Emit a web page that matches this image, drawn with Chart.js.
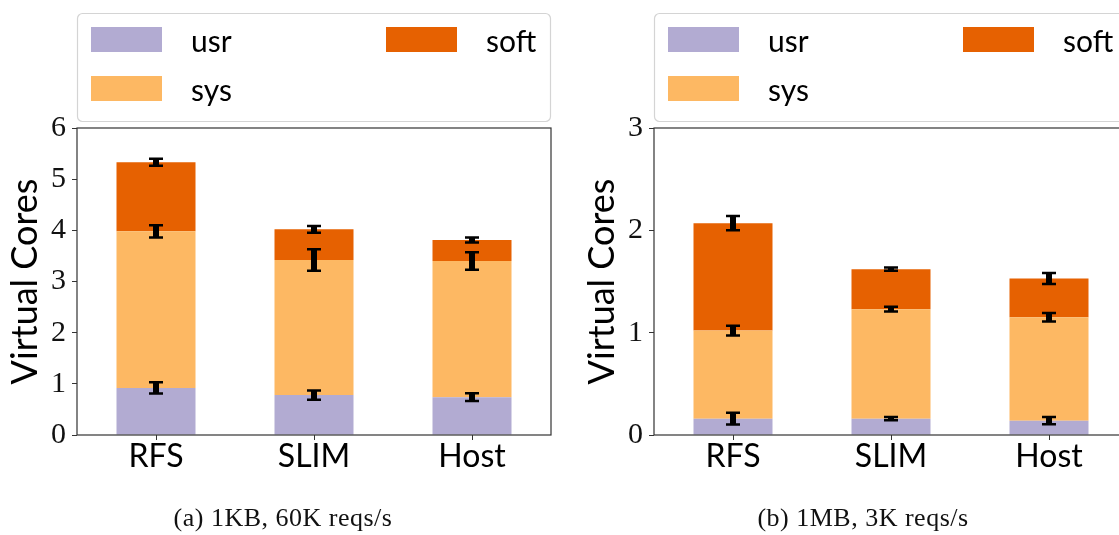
<!DOCTYPE html>
<html>
<head>
<meta charset="utf-8">
<title>CPU breakdown</title>
<script src="https://cdn.jsdelivr.net/npm/chart.js@4.4.1/dist/chart.umd.min.js"></script>
<style>
  html, body { margin: 0; padding: 0; background: #fff; }
  body { width: 1119px; height: 535px; overflow: hidden; position: relative; }
  .panel { position: absolute; top: 0; width: 565px; height: 535px; }
  #panelA { left: 0; }
  #panelB { left: 577px; }
  .caption {
    position: absolute; top: 505px; line-height: 1;
    font-family: "Liberation Serif", serif; font-size: 26px; letter-spacing: 0.5px; color: #111;
    transform: translateX(-50%); white-space: nowrap;
  }
</style>
</head>
<body>
<div class="panel" id="panelA"><canvas id="chartA" width="565" height="535"></canvas></div>
<div class="panel" id="panelB"><canvas id="chartB" width="565" height="535"></canvas></div>
<div class="caption" style="left:283px">(a) 1KB, 60K reqs/s</div>
<div class="caption" style="left:863px">(b) 1MB, 3K reqs/s</div>
<script>
// Categories and series
const categories = ['RFS', 'SLIM', 'Host'];
const seriesNames = ['usr', 'sys', 'soft'];
const seriesColors = ['#b2abd2', '#fdb863', '#e66101'];

// (a) 1KB, 60K reqs/s — per-segment virtual cores and std errors
const usrA = [0.92, 0.78, 0.74];
const sysA = [3.06, 2.64, 2.66];
const softA = [1.35, 0.60, 0.41];
const usrErrA = [0.11, 0.09, 0.075];
const sysErrA = [0.12, 0.21, 0.17];
const softErrA = [0.07, 0.065, 0.05];

// (b) 1MB, 3K reqs/s
const usrB = [0.16, 0.16, 0.14];
const sysB = [0.86, 1.07, 1.01];
const softB = [1.05, 0.39, 0.38];
const usrErrB = [0.057, 0.016, 0.036];
const sysErrB = [0.047, 0.023, 0.042];
const softErrB = [0.07, 0.016, 0.054];

// Y axis limits / tick step for each panel
const yMaxA = 6;
const yMaxB = 3;
const yStep = 1;

const SANS = 'Lato, "Open Sans", sans-serif';
const SERIF = '"Liberation Serif", serif';
const AXIS_COLOR = '#333';

// Error bars drawn at the top of each stacked segment
const errorBarPlugin = {
  id: 'errorBars',
  afterDatasetsDraw(chart) {
    const ctx = chart.ctx;
    const yScale = chart.scales.y;
    const datasets = chart.data.datasets;
    ctx.save();
    ctx.strokeStyle = '#000';
    datasets.forEach((ds, d) => {
      const meta = chart.getDatasetMeta(d);
      meta.data.forEach((bar, i) => {
        let top = 0;
        for (let k = 0; k <= d; k++) top += datasets[k].data[i];
        const err = ds.errors[i];
        const yHi = yScale.getPixelForValue(top + err);
        const yLo = yScale.getPixelForValue(top - err);
        const x = bar.x;
        ctx.lineWidth = 6;
        ctx.beginPath();
        ctx.moveTo(x, yLo);
        ctx.lineTo(x, yHi);
        ctx.stroke();
        ctx.lineWidth = 2.5;
        ctx.beginPath();
        ctx.moveTo(x - 7, yLo); ctx.lineTo(x + 7, yLo);
        ctx.moveTo(x - 7, yHi); ctx.lineTo(x + 7, yHi);
        ctx.stroke();
      });
    });
    ctx.restore();
  }
};

// Four-sided frame around the plotting area
const framePlugin = {
  id: 'frame',
  afterDatasetsDraw(chart) {
    const { left, top, right, bottom } = chart.chartArea;
    const ctx = chart.ctx;
    ctx.save();
    ctx.strokeStyle = AXIS_COLOR;
    ctx.lineWidth = 1.2;
    ctx.strokeRect(left, top, right - left, bottom - top);
    ctx.restore();
  }
};

// Two-column boxed legend above the plot (filled column by column)
const boxLegendPlugin = {
  id: 'boxLegend',
  afterDraw(chart) {
    const ctx = chart.ctx;
    const area = chart.chartArea;
    const bx = area.left, by = 13, bw = area.right - area.left, bh = 108;
    ctx.save();
    ctx.fillStyle = 'rgba(255,255,255,0.8)';
    ctx.strokeStyle = '#d4d4d4';
    ctx.lineWidth = 1.2;
    ctx.beginPath();
    ctx.roundRect(bx + 0.5, by + 0.5, bw - 1, bh, 5);
    ctx.fill();
    ctx.stroke();
    ctx.font = '30px ' + SANS;
    ctx.textBaseline = 'middle';
    ctx.textAlign = 'left';
    chart.data.datasets.forEach((ds, i) => {
      const col = Math.floor(i / 2), row = i % 2;
      const sx = bx + 14 + col * 295;
      const sy = 27 + row * 49;
      ctx.fillStyle = ds.backgroundColor;
      ctx.fillRect(sx, sy, 71, 25);
      ctx.fillStyle = '#000';
      ctx.fillText(ds.label, sx + 100, sy + 15);
    });
    ctx.restore();
  }
};

function makeChart(canvasId, usr, sys, soft, usrErr, sysErr, softErr, yMax) {
  const values = [usr, sys, soft];
  const errs = [usrErr, sysErr, softErr];
  return new Chart(document.getElementById(canvasId), {
    type: 'bar',
    data: {
      labels: categories,
      datasets: seriesNames.map((name, k) => ({
        label: name,
        data: values[k],
        errors: errs[k],
        backgroundColor: seriesColors[k],
        borderWidth: 0,
        categoryPercentage: 1.0,
        barPercentage: 0.5
      }))
    },
    options: {
      responsive: false,
      animation: false,
      devicePixelRatio: 1,
      layout: { padding: { left: 4, right: 14, top: 128, bottom: 40 } },
      plugins: {
        legend: { display: false },
        tooltip: { enabled: false },
        title: { display: false }
      },
      scales: {
        x: {
          stacked: true,
          border: { display: false },
          grid: {
            display: true, drawOnChartArea: false, drawTicks: true,
            tickLength: 5, offset: false, color: AXIS_COLOR, lineWidth: 1
          },
          ticks: {
            color: '#000', padding: -3,
            font: { family: SANS, size: 32 }
          },
          afterFit(scale) { scale.height = 60; }
        },
        y: {
          stacked: true,
          min: 0, max: yMax,
          border: { display: false },
          grid: {
            display: true, drawOnChartArea: false, drawTicks: true,
            tickLength: 5, color: AXIS_COLOR, lineWidth: 1
          },
          ticks: {
            stepSize: yStep, color: '#111', padding: 6,
            font: { family: SERIF, size: 30 }
          },
          title: {
            display: true, text: 'Virtual Cores', color: '#000',
            padding: 0,
            font: { family: SANS, size: 36 }
          },
          afterFit(scale) { scale.width = 73; }
        }
      }
    },
    plugins: [framePlugin, errorBarPlugin, boxLegendPlugin]
  });
}

makeChart('chartA', usrA, sysA, softA, usrErrA, sysErrA, softErrA, yMaxA);
makeChart('chartB', usrB, sysB, softB, usrErrB, sysErrB, softErrB, yMaxB);
</script>
</body>
</html>
